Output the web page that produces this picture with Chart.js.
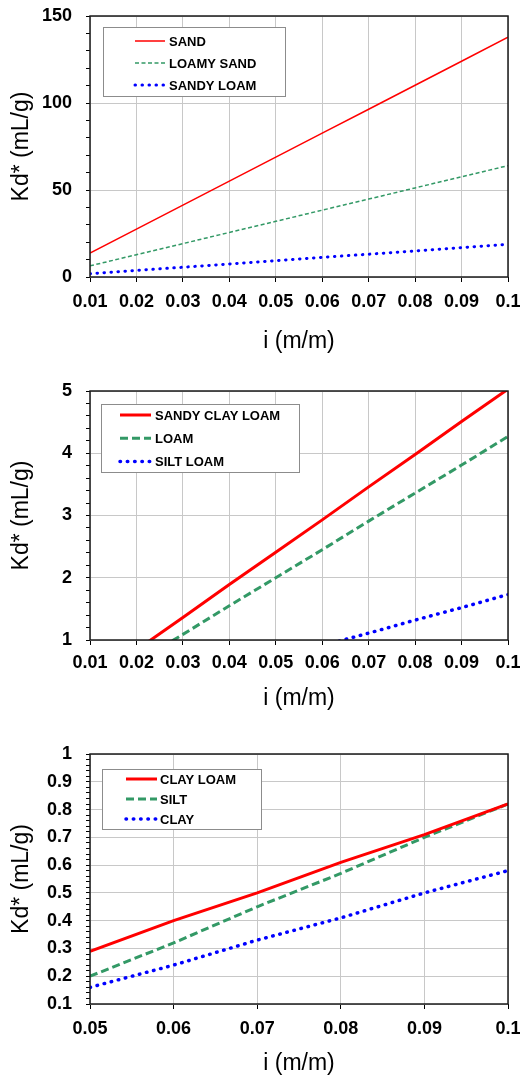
<!DOCTYPE html>
<html>
<head>
<meta charset="utf-8">
<script src="https://cdn.jsdelivr.net/npm/chart.js@4.4.1/dist/chart.umd.min.js"></script>
<style>
  html, body { margin: 0; padding: 0; background: #fff; }
  #wrap { position: relative; width: 520px; height: 1079px; }
  canvas { position: absolute; left: 0; }
</style>
</head>
<body>
<div id="wrap">
  <canvas id="chart1" width="520" height="360" style="top:0"></canvas>
  <canvas id="chart2" width="520" height="360" style="top:360px"></canvas>
  <canvas id="chart3" width="520" height="359" style="top:720px"></canvas>
</div>
<script>
// painel 1 (i = 0.01 .. 0.1)
const i1 = [0.01, 0.02, 0.03, 0.04, 0.05, 0.06, 0.07, 0.08, 0.09, 0.1];
const sand = [13.8, 27.5, 41.3, 55.1, 68.9, 82.7, 96.4, 110.2, 124.0, 137.8];
const loamySand = [6.4, 12.8, 19.2, 25.6, 32.0, 38.4, 44.8, 51.2, 57.6, 64.0];
const sandyLoam = [1.9, 3.8, 5.6, 7.5, 9.4, 11.3, 13.1, 15.0, 16.9, 18.8];

// painel 2
const i2 = [0.01, 0.02, 0.03, 0.04, 0.05, 0.06, 0.07, 0.08, 0.09, 0.1];
const sandyClayLoam = [0.31, 0.84, 1.36, 1.89, 2.41, 2.93, 3.46, 3.98, 4.51, 5.03];
const loam = [0.19, 0.64, 1.09, 1.55, 2.0, 2.45, 2.91, 3.36, 3.81, 4.27];
const siltLoam = [null, null, null, null, 0.70, 0.91, 1.11, 1.32, 1.52, 1.73];

// painel 3 (i = 0.05 .. 0.1)
const i3 = [0.05, 0.06, 0.07, 0.08, 0.09, 0.1];
const clayLoam = [0.29, 0.40, 0.50, 0.61, 0.71, 0.82];
const silt = [0.20, 0.32, 0.45, 0.57, 0.70, 0.82];
const clay = [0.16, 0.24, 0.33, 0.41, 0.50, 0.58];

// eixos: [min, max, passo menor, passo maior]
const y1Axis = [0, 150, 10, 50];
const y2Axis = [1, 5, 0.2, 1];
const y3Axis = [0.1, 1, 0.02, 0.1];
const x1Axis = [0.01, 0.1, 0.01];
const x2Axis = [0.01, 0.1, 0.01];
const x3Axis = [0.05, 0.1, 0.01];

const xTitle = "i (m/m)";
const yTitle = "Kd* (mL/g)";

const RED = "#ff0000";
const GREEN = "#339966";
const BLUE = "#0000ff";
const FONT = "'Liberation Sans', Arial, Helvetica, sans-serif";

Chart.defaults.font.family = FONT;
Chart.defaults.color = "#000";

const ehMultiplo = (v, passo) => {
  const q = v / passo;
  return Math.abs(q - Math.round(q)) < 1e-6;
};

const fmt = (v) => String(Math.round(v * 1000) / 1000);

const molduraLegenda = {
  id: "molduraLegenda",
  afterDraw(chart, args, opts) {
    const { ctx, chartArea: a } = chart;
    ctx.save();
    ctx.strokeStyle = "#1a1a1a";
    ctx.lineWidth = 1.5;
    ctx.strokeRect(a.left, a.top, a.right - a.left, a.bottom - a.top);

    const L = opts.box;
    ctx.fillStyle = "#fff";
    ctx.fillRect(L.x, L.y, L.w, L.h);
    ctx.strokeStyle = "#8c8c8c";
    ctx.lineWidth = 1;
    ctx.strokeRect(L.x + 0.5, L.y + 0.5, L.w, L.h);
    ctx.font = `bold 13px ${FONT}`;
    ctx.textBaseline = "middle";
    chart.data.datasets.forEach((ds, k) => {
      const y = L.row0 + k * L.gap;
      ctx.beginPath();
      ctx.strokeStyle = ds.borderColor;
      ctx.lineWidth = ds.borderWidth;
      ctx.lineCap = ds.borderCapStyle || "butt";
      ctx.setLineDash(ds.borderDash || []);
      ctx.moveTo(L.x1, y);
      ctx.lineTo(L.x2, y);
      ctx.stroke();
      ctx.setLineDash([]);
      ctx.fillStyle = "#000";
      ctx.fillText(ds.label, L.tx, y + 1);
    });
    ctx.restore();
  },
};

const serie = (label, xs, ys, estilo) => ({
  label,
  data: xs.map((x, k) => ({ x, y: ys[k] })),
  borderColor: estilo.cor,
  backgroundColor: estilo.cor,
  borderWidth: estilo.largura,
  borderDash: estilo.traco || [],
  borderCapStyle: estilo.cap || "butt",
  pointRadius: 0,
  tension: 0,
  fill: false,
  spanGaps: false,
  clip: 0,
});

const criarGrafico = (id, datasets, xAx, yAx, lay) => {
  const ctx = document.getElementById(id).getContext("2d");
  return new Chart(ctx, {
    type: "line",
    data: { datasets },
    plugins: [molduraLegenda],
    options: {
      responsive: false,
      animation: false,
      devicePixelRatio: 1,
      layout: { padding: { top: lay.top, right: 12, bottom: 0, left: 0 } },
      plugins: {
        legend: { display: false },
        tooltip: { enabled: false },
        molduraLegenda: { box: lay.legenda },
      },
      scales: {
        x: {
          type: "linear",
          min: xAx[0],
          max: xAx[1],
          border: { display: false },
          grid: { color: "#c8c8c8", lineWidth: 1, tickColor: "#000", tickLength: 5 },
          ticks: {
            stepSize: xAx[2],
            autoSkip: false,
            maxRotation: 0,
            minRotation: 0,
            padding: lay.xPad,
            font: { size: 18, weight: "bold" },
            color: "#000",
            callback: (v) => fmt(v),
          },
          title: {
            display: true,
            text: xTitle,
            font: { size: 23 },
            color: "#000",
            padding: { top: 0, bottom: lay.titlePad },
          },
          afterFit: (s) => {
            s.height = lay.xH;
            s.paddingLeft = 0;
            s.paddingRight = 0;
          },
        },
        y: {
          type: "linear",
          min: yAx[0],
          max: yAx[1],
          border: { display: false },
          grid: {
            color: (c) => (ehMultiplo(c.tick.value, yAx[3]) ? "#c8c8c8" : "rgba(0,0,0,0)"),
            lineWidth: 1,
            tickColor: "#000",
            tickLength: 4,
          },
          ticks: {
            stepSize: yAx[2],
            autoSkip: false,
            padding: 14,
            font: { size: 18, weight: "bold" },
            color: "#000",
            callback: (v) => (ehMultiplo(v, yAx[3]) ? fmt(v) : ""),
          },
          title: {
            display: true,
            text: yTitle,
            font: { size: 23 },
            color: "#000",
            padding: { top: 8, bottom: 0 },
          },
          afterFit: (s) => {
            s.width = 90;
            s.paddingTop = 0;
            s.paddingBottom = 0;
          },
        },
      },
    },
  });
};

criarGrafico(
  "chart1",
  [
    serie("SAND", i1, sand, { cor: RED, largura: 1.5 }),
    serie("LOAMY SAND", i1, loamySand, { cor: GREEN, largura: 1.5, traco: [4, 2.5] }),
    serie("SANDY LOAM", i1, sandyLoam, { cor: BLUE, largura: 3, traco: [0.5, 6.5], cap: "round" }),
  ],
  x1Axis,
  y1Axis,
  {
    top: 16, xH: 83, xPad: 9, titlePad: 5,
    legenda: { x: 103, y: 27, w: 182, h: 69, x1: 135, x2: 165, tx: 169, row0: 41, gap: 22 },
  },
);

criarGrafico(
  "chart2",
  [
    serie("SANDY CLAY LOAM", i2, sandyClayLoam, { cor: RED, largura: 3 }),
    serie("LOAM", i2, loam, { cor: GREEN, largura: 3, traco: [8, 4] }),
    serie("SILT LOAM", i2, siltLoam, { cor: BLUE, largura: 3.5, traco: [0.5, 6.8], cap: "round" }),
  ],
  x2Axis,
  y2Axis,
  {
    top: 31, xH: 80, xPad: 7.5, titlePad: 8,
    legenda: { x: 101, y: 44, w: 198, h: 68, x1: 120, x2: 151, tx: 155, row0: 55, gap: 23.3 },
  },
);

criarGrafico(
  "chart3",
  [
    serie("CLAY LOAM", i3, clayLoam, { cor: RED, largura: 3 }),
    serie("SILT", i3, silt, { cor: GREEN, largura: 3, traco: [8, 4] }),
    serie("CLAY", i3, clay, { cor: BLUE, largura: 3.5, traco: [0.5, 6.8], cap: "round" }),
  ],
  x3Axis,
  y3Axis,
  {
    top: 34, xH: 75, xPad: 9, titlePad: 2,
    legenda: { x: 102, y: 49, w: 159, h: 60, x1: 126, x2: 157, tx: 160, row0: 59, gap: 20 },
  },
);
</script>
</body>
</html>
